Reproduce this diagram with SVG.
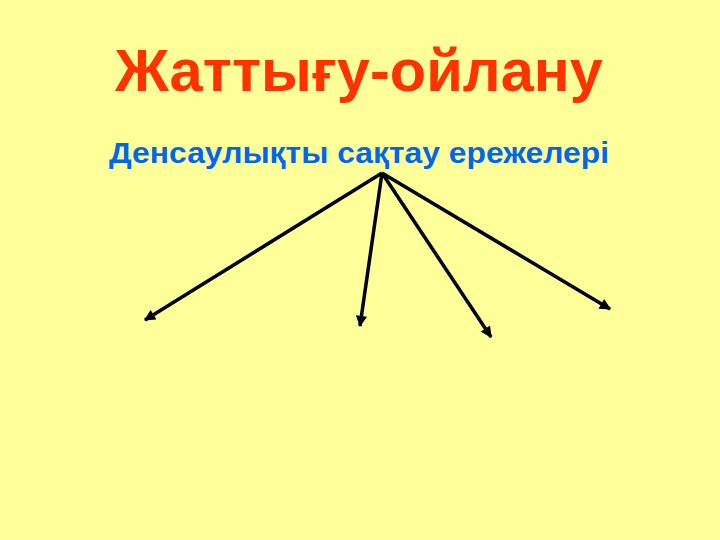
<svg xmlns="http://www.w3.org/2000/svg" width="720" height="540" viewBox="0 0 720 540">
<style>
.title{font-family:"Liberation Sans",Arial,sans-serif;font-weight:bold;fill:#FF3300;}
.sub{font-family:"Liberation Sans",Arial,sans-serif;font-weight:bold;fill:#0066EE;}
.arr{stroke:#000;stroke-width:3.5;fill:none;marker-end:url(#ah);}
</style>
<defs>
<marker id="ah" viewBox="0 0 10 10" refX="9" refY="5" markerWidth="3.5" markerHeight="3.2" orient="auto" markerUnits="strokeWidth">
<path d="M0,0 L10,5 L0,10 z" fill="#000"/>
</marker>
</defs>
<rect width="720" height="540" fill="#FFFF99"/>
<g id="title"><text class="title" x="115" y="91" font-size="60" textLength="488" lengthAdjust="spacingAndGlyphs">Жаттығу-ойлану</text></g>
<g id="subtitle"><text class="sub" x="109" y="163" font-size="30" textLength="500" lengthAdjust="spacingAndGlyphs">Денсаулықты сақтау ережелері</text></g>
<g id="connectors">
<line class="arr" x1="382" y1="173" x2="145" y2="320"/>
<line class="arr" x1="382" y1="173" x2="360" y2="326"/>
<line class="arr" x1="382" y1="173" x2="491" y2="337"/>
<line class="arr" x1="382" y1="173" x2="610" y2="309"/>
</g>
</svg>
